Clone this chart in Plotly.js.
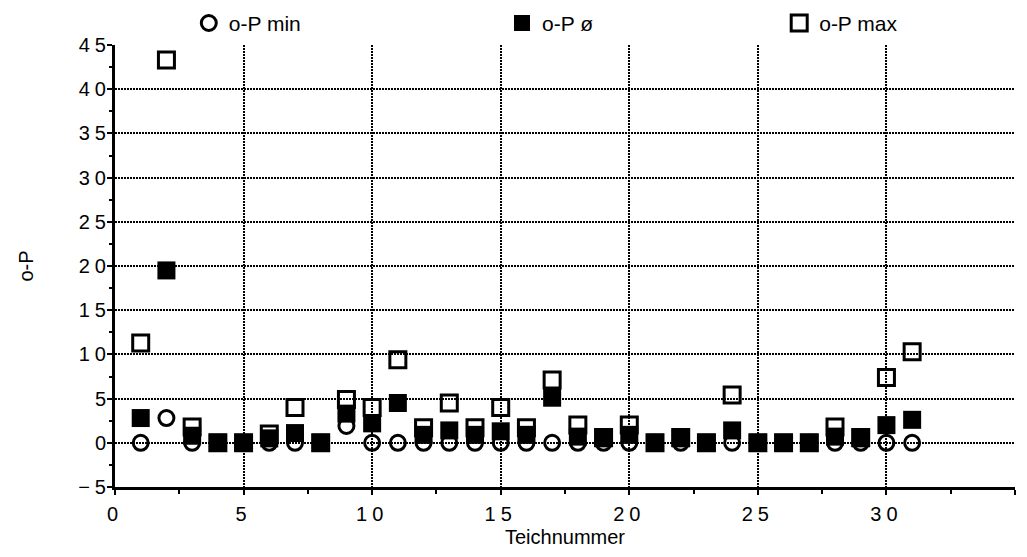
<!DOCTYPE html>
<html>
<head>
<meta charset="utf-8">
<script src="https://cdn.plot.ly/plotly-3.0.1.min.js"></script>
<style>
html,body{margin:0;padding:0;background:#fff;}
#chart{width:1027px;height:557px;}
.xtick text,.ytick text{letter-spacing:5px;}
</style>
</head>
<body>
<div id="chart"></div>
<script>
const teich = [1,2,3,4,5,6,7,8,9,10,11,12,13,14,15,16,17,18,19,20,21,22,23,24,25,26,27,28,29,30,31];
const opMin = [0,2.8,0,0,0,0,0,0,1.9,0,0,0,0,0,0,0,0,0,0,0,0,0,0,0,0,0,0,0,0,0,0];
const opMean = [2.8,19.5,0.8,0,0,0.5,1.1,0,3.3,2.2,4.5,0.9,1.4,0.9,1.3,0.9,5.1,0.7,0.5,0.9,0,0.5,0,1.4,0,0,0,0.7,0.5,2.0,2.6];
const opMax = [11.3,43.3,1.8,0,0,1.0,4.0,0,4.9,4.0,9.4,1.7,4.5,1.7,4.0,1.7,7.1,2.0,0.6,2.0,0,0.6,0,5.4,0,0,0,1.8,0.6,7.4,10.3];
const names = ['o-P min','o-P ø','o-P max'];
const xTicks = [0,5,10,15,20,25,30,35];
const yTicks = [-5,0,5,10,15,20,25,30,35,40,45];

const fam = '"Liberation Sans", Arial, sans-serif';
const f = s => ({family:fam, size:s, color:'#000'});
const traces = [
  {x:teich, y:opMin, name:names[0], mode:'markers', type:'scatter', legend:'legend',
   marker:{symbol:'circle-open', size:15, color:'#000', line:{width:3, color:'#000'}}},
  {x:teich, y:opMax, name:names[2], mode:'markers', type:'scatter', legend:'legend3',
   marker:{symbol:'square-open', size:16, color:'#000', line:{width:3, color:'#000'}}},
  {x:teich, y:opMean, name:names[1], mode:'markers', type:'scatter', legend:'legend2',
   marker:{symbol:'square', size:18, color:'#000', line:{width:0}}}
];
const axisCommon = {
  showline:true, linecolor:'#000', linewidth:3, ticks:'outside', ticklen:5, tickwidth:2, tickcolor:'#000',
  showgrid:true, gridcolor:'#000', gridwidth:2, griddash:'2px,1px', zeroline:false,
  tickfont:f(20)
};
const leg = x => ({orientation:'h', x:x, xanchor:'left', y:1.049, yanchor:'middle',
                   font:f(21), itemwidth:30, bgcolor:'rgba(0,0,0,0)'});
const layout = {
  width:1027, height:557,
  margin:{l:115, r:12, t:45, b:70, autoexpand:false},
  paper_bgcolor:'#fff', plot_bgcolor:'#fff',
  font:f(19),
  showlegend:true,
  legend:leg(0.082), legend2:leg(0.43), legend3:leg(0.738),
  xaxis:Object.assign({}, axisCommon, {range:[0,35], tickvals:xTicks, ticklabelstandoff:2,
         minor:{dtick:2.5, tick0:0, ticks:'outside', ticklen:4, tickwidth:2, tickcolor:'#000', showgrid:false},
         title:{text:'Teichnummer', font:f(20), standoff:6}}),
  yaxis:Object.assign({}, axisCommon, {range:[-5,45], tickvals:yTicks, ticklabelstandoff:-8,
         minor:{dtick:2.5, tick0:0, ticks:'outside', ticklen:3, tickwidth:2, tickcolor:'#000', showgrid:false},
         title:{text:'o-P', font:f(20), standoff:40}})
};
Plotly.newPlot('chart', traces, layout, {displayModeBar:false, staticPlot:true});
</script>
</body>
</html>
